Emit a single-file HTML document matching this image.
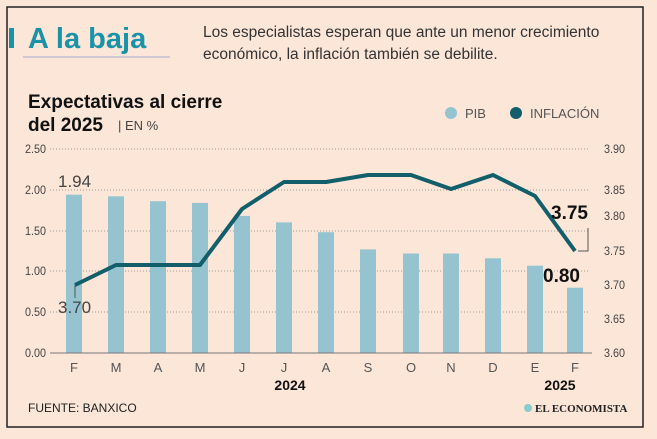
<!DOCTYPE html>
<html><head><meta charset="utf-8"><style>
body{margin:0;background:#fbe6d8;}
svg{display:block;font-family:"Liberation Sans",sans-serif;}
</style></head><body>
<svg width="657" height="439" viewBox="0 0 657 439">
<rect width="657" height="439" fill="#fbe6d8"/>
<rect x="7" y="7" width="636" height="420" fill="#fbe6d8" stroke="#222" stroke-width="1.5"/>
<rect x="9" y="28" width="5" height="20" fill="#1a93a8"/>
<text x="28" y="48" font-size="29" font-weight="bold" fill="#1a93a8">A la baja</text>
<line x1="23" y1="57" x2="170" y2="57" stroke="#aac" stroke-width="1"/>
<text x="203" y="37" font-size="15.5" fill="#333">Los especialistas esperan que ante un menor crecimiento</text>
<text x="203" y="59" font-size="15.5" fill="#333">económico, la inflación también se debilite.</text>
<text x="28" y="108" font-size="19" font-weight="bold" fill="#111">Expectativas al cierre</text>
<text x="28" y="131" font-size="19" font-weight="bold" fill="#111">del 2025</text>
<text x="118" y="130" font-size="13" fill="#444">| EN %</text>
<circle cx="451" cy="113" r="6" fill="#95c3cf"/>
<text x="465" y="118" font-size="13" fill="#555">PIB</text>
<circle cx="516" cy="113" r="6" fill="#135e6b"/>
<text x="530" y="118" font-size="13" fill="#555">INFLACIÓN</text>
<g stroke="#999" stroke-width="1" stroke-dasharray="1,2">
<line x1="50" y1="149" x2="590" y2="149"/><line x1="50" y1="190" x2="590" y2="190"/>
<line x1="50" y1="231" x2="590" y2="231"/><line x1="50" y1="271" x2="590" y2="271"/>
<line x1="50" y1="312" x2="590" y2="312"/></g>
<g font-size="12" fill="#444">
<text x="46" y="153" text-anchor="end" textLength="21" lengthAdjust="spacingAndGlyphs">2.50</text>
<text x="46" y="194" text-anchor="end" textLength="21" lengthAdjust="spacingAndGlyphs">2.00</text>
<text x="46" y="235" text-anchor="end" textLength="21" lengthAdjust="spacingAndGlyphs">1.50</text>
<text x="46" y="275" text-anchor="end" textLength="21" lengthAdjust="spacingAndGlyphs">1.00</text>
<text x="46" y="316" text-anchor="end" textLength="21" lengthAdjust="spacingAndGlyphs">0.50</text>
<text x="46" y="357" text-anchor="end" textLength="21" lengthAdjust="spacingAndGlyphs">0.00</text>
<text x="604" y="153" textLength="21" lengthAdjust="spacingAndGlyphs">3.90</text>
<text x="604" y="194" textLength="21" lengthAdjust="spacingAndGlyphs">3.85</text>
<text x="604" y="220" textLength="21" lengthAdjust="spacingAndGlyphs">3.80</text>
<text x="604" y="255" textLength="21" lengthAdjust="spacingAndGlyphs">3.75</text>
<text x="604" y="289" textLength="21" lengthAdjust="spacingAndGlyphs">3.70</text>
<text x="604" y="323" textLength="21" lengthAdjust="spacingAndGlyphs">3.65</text>
<text x="604" y="357" textLength="21" lengthAdjust="spacingAndGlyphs">3.60</text>
</g>
<g fill="#95c3cf">
<rect x="66" y="194.7" width="16" height="158.3"/><rect x="108" y="196.3" width="16" height="156.7"/>
<rect x="150" y="201.2" width="16" height="151.8"/><rect x="192" y="202.9" width="16" height="150.1"/>
<rect x="234" y="215.9" width="16" height="137.1"/><rect x="276" y="222.4" width="16" height="130.6"/>
<rect x="318" y="232.2" width="16" height="120.8"/><rect x="360" y="249.4" width="16" height="103.6"/>
<rect x="403" y="253.5" width="16" height="99.5"/><rect x="443" y="253.5" width="16" height="99.5"/>
<rect x="485" y="258.3" width="16" height="94.7"/><rect x="527" y="265.7" width="16" height="87.3"/>
<rect x="567" y="287.7" width="16" height="65.3"/>
</g>
<line x1="50" y1="353" x2="592" y2="353" stroke="#777" stroke-width="1"/>
<polyline fill="none" stroke="#135e6b" stroke-width="4" stroke-linejoin="round" points="75,285 116,265 158,265 200,265 242,209 284,182 326,182 368,175 411,175 451,189 493,175 535,196 575,251"/>
<line x1="75" y1="285" x2="75" y2="298" stroke="#555" stroke-width="1"/>
<text x="58" y="187" font-size="17" fill="#444">1.94</text>
<text x="58" y="313" font-size="17" fill="#444">3.70</text>
<polyline fill="none" stroke="#555" stroke-width="1" points="578,251 588,251 588,228"/>
<text x="551" y="219" font-size="19" font-weight="bold" fill="#111">3.75</text>
<text x="543" y="282" font-size="19" font-weight="bold" fill="#111">0.80</text>
<g font-size="13" fill="#555" text-anchor="middle">
<text x="74" y="372">F</text><text x="116" y="372">M</text><text x="158" y="372">A</text><text x="200" y="372">M</text>
<text x="242" y="372">J</text><text x="284" y="372">J</text><text x="326" y="372">A</text><text x="368" y="372">S</text>
<text x="411" y="372">O</text><text x="451" y="372">N</text><text x="493" y="372">D</text><text x="535" y="372">E</text><text x="575" y="372">F</text>
</g>
<text x="290" y="390" font-size="14" font-weight="bold" fill="#111" text-anchor="middle">2024</text>
<text x="560" y="390" font-size="14" font-weight="bold" fill="#111" text-anchor="middle">2025</text>
<text x="28" y="412" font-size="12" fill="#222">FUENTE: BANXICO</text>
<circle cx="528" cy="408" r="4" fill="#8cc"/>
<text x="535" y="412" font-size="11" font-weight="bold" font-family="Liberation Serif,serif" fill="#222">EL ECONOMISTA</text>
</svg>
</body></html>
